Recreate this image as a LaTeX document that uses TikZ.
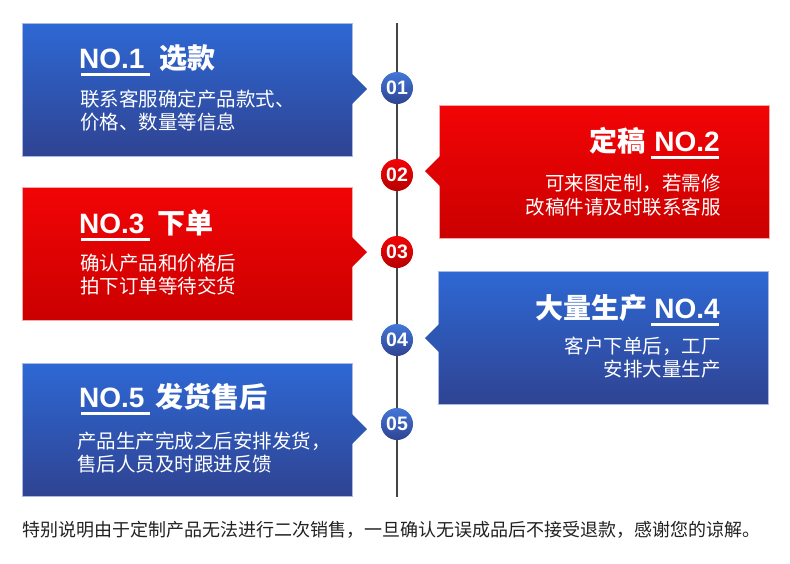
\documentclass[tikz,border=0pt]{standalone}
\usepackage{fontspec}
\setmainfont{Liberation Sans}
\newfontfamily\cjk{Noto Sans CJK SC}
\usetikzlibrary{positioning,calc}
\definecolor{bluetop}{HTML}{2E68D4}
\definecolor{bluebot}{HTML}{2F4392}
\definecolor{redtop}{HTML}{F20406}
\definecolor{redbot}{HTML}{CB0000}
\definecolor{blueedge}{HTML}{A9B9E6}
\definecolor{rededge}{HTML}{F4A8A8}
\definecolor{spinegray}{HTML}{444444}
\definecolor{notetext}{HTML}{222222}
\tikzset{
  card/.style={anchor=north west,minimum width=330pt,minimum height=133pt,inner sep=0pt,outer sep=0pt,line width=0.8pt},
  bluecard/.style={card,draw=blueedge,top color=bluetop,bottom color=bluebot},
  redcard/.style={card,draw=rededge,top color=redtop,bottom color=redbot},
  bluetip/.style={fill=bluetop!50!bluebot},
  redtip/.style={fill=redtop!50!redbot},
  dot/.style={circle,minimum size=32pt,inner sep=0pt,text=white,font=\bfseries\fontsize{19.5}{20}\selectfont},
  bluedot/.style={dot,top color=bluetop!90!white,bottom color=bluebot},
  reddot/.style={dot,top color=redtop,bottom color=redbot!90!black},
  spine/.style={line width=2pt,spinegray},
  tagno/.style={inner sep=0pt,text=white,font=\bfseries\fontsize{28}{30}\selectfont},
  tagname/.style={inner sep=0pt,text=white,font=\cjk\bfseries\fontsize{28}{30}\selectfont},
  uline/.style={white,line width=3pt},
  bodytext/.style={inner sep=0pt,text=white,font=\cjk\fontsize{19.5}{23.5}\selectfont},
  note/.style={inner sep=0pt,text=notetext,font=\cjk\fontsize{18}{20}\selectfont}
}
\begin{document}
\begin{tikzpicture}[x=1pt,y=-1pt]
  \useasboundingbox (0,0) rectangle (790,563);
  \fill[white] (0,0) rectangle (790,563);

  % cards
  \node[bluecard] (b1) at (22.5,23) {};
  \node[redcard] (b2) at (439,105) {};
  \node[redcard] (b3) at (22.5,187.5) {};
  \node[bluecard] (b4) at (438.5,271.5) {};
  \node[bluecard] (b5) at (22.5,363) {};

  % pointers
  \coordinate (p1) at (367,89);
  \coordinate (p2) at (425,171);
  \coordinate (p3) at (367,252);
  \coordinate (p4) at (425,338);
  \coordinate (p5) at (367,429);
  \fill[bluetip] (p1) -- ++(-15,-15) -- ++(0,30) -- cycle;
  \fill[redtip] (p2) -- ++(15,-15) -- ++(0,30) -- cycle;
  \fill[redtip] (p3) -- ++(-15,-15) -- ++(0,30) -- cycle;
  \fill[bluetip] (p4) -- ++(15,-15) -- ++(0,30) -- cycle;
  \fill[bluetip] (p5) -- ++(-15,-15) -- ++(0,30) -- cycle;

  % timeline
  \coordinate (top) at (397,23);
  \coordinate (bot) at (397,497);
  \node[bluedot] (c1) at (397,88) {01};
  \node[reddot] (c2) at (397,175) {02};
  \node[reddot] (c3) at (397,252) {03};
  \node[bluedot] (c4) at (397,340) {04};
  \node[bluedot] (c5) at (397,424) {05};
  \draw[spine] (top) -- (c1);
  \draw[spine] (c1) -- (c2);
  \draw[spine] (c2) -- (c3);
  \draw[spine] (c3) -- (c4);
  \draw[spine] (c4) -- (c5);
  \draw[spine] (c5) -- (bot);

  % titles
  \node[tagno,anchor=base west] (n1) at (79,68) {NO.1};
  \node[tagname,anchor=base west] (k1) at ([xshift=15pt]n1.base east) {选款};
  \node[tagno,anchor=base east] (n2) at (720,151) {NO.2};
  \node[tagname,anchor=base east] (k2) at ([xshift=-9pt]n2.base west) {定稿};
  \node[tagno,anchor=base west] (n3) at (79,233) {NO.3};
  \node[tagname,anchor=base west] (k3) at ([xshift=13pt]n3.base east) {下单};
  \node[tagno,anchor=base east] (n4) at (720,318) {NO.4};
  \node[tagname,anchor=base east] (k4) at ([xshift=-7pt]n4.base west) {大量生产};
  \node[tagno,anchor=base west] (n5) at (79,407) {NO.5};
  \node[tagname,anchor=base west] (k5) at ([xshift=11pt]n5.base east) {发货售后};
  \foreach \n in {n1,n3,n5}
    \draw[uline] ([xshift=2pt,yshift=-6pt]\n.base west) -- ([xshift=5pt,yshift=-6pt]\n.base east);
  \foreach \n in {n2,n4}
    \draw[uline] ([xshift=-3pt,yshift=-6pt]\n.base west) -- ([xshift=-1pt,yshift=-6pt]\n.base east);

  % descriptions
  \node[bodytext,anchor=west,align=left] (d1) at (80,110.5) {联系客服确定产品款式、\\价格、数量等信息};
  \node[bodytext,anchor=east,align=right] (d2) at (721,195) {可来图定制，若需修\\改稿件请及时联系客服};
  \node[bodytext,anchor=west,align=left] (d3) at (80,274.5) {确认产品和价格后\\拍下订单等待交货};
  \node[bodytext,anchor=east,align=right] (d4) at (721,357.5) {客户下单后，工厂\\安排大量生产};
  \node[bodytext,anchor=west,align=left] (d5) at (77,452.5) {产品生产完成之后安排发货，\\售后人员及时跟进反馈};

  \node[note,anchor=west] (note) at (22,530) {特别说明由于定制产品无法进行二次销售，一旦确认无误成品后不接受退款，感谢您的谅解。};
\end{tikzpicture}
\end{document}
